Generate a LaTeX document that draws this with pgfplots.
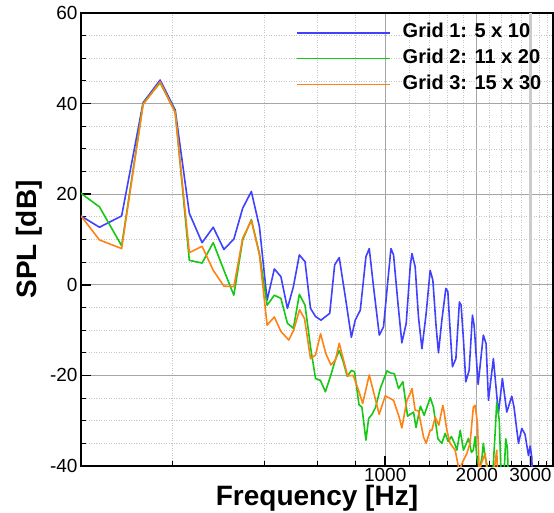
\documentclass[border=0pt]{standalone}
\usepackage{pgfplots}
\pgfplotsset{compat=1.18}
\usepackage{fontspec}
\setmainfont{Liberation Sans}
\definecolor{cblue}{RGB}{64,64,255}
\definecolor{cgreen}{RGB}{20,200,20}
\definecolor{corange}{RGB}{255,130,20}
\begin{document}
\begin{tikzpicture}
\begin{axis}[
 at={(0,0)}, anchor=south west,
 scale only axis, width=472pt, height=453pt,
 xmode=log, xmin=100, xmax=3560, ymin=-40, ymax=60,
 xtick={1000,2000}, xticklabels={1000,2000},
 extra x ticks={3000}, extra x tick labels={3000},
 extra x tick style={major grid style={line width=2.2pt, gray!40}},
 minor xtick={200,400,600,800,1200,1400,1600,1800,2200,2400,2600,2800,3200,3400},
 ytick={-40,-20,0,20,40,60}, yticklabels={-40,-20,0,20,40,60},
 minor ytick={-35,-30,-25,-15,-10,-5,5,10,15,25,30,35,45,50,55},
 grid=both,
 major grid style={gray!70, line width=1pt},
 minor grid style={gray!45, dash pattern=on 1pt off 1.5pt, line width=0.7pt},
 tick align=inside, xtick pos=bottom, ytick pos=left,
 major tick length=10pt, minor tick length=5pt,
 tick style={black, line width=1.5pt},
 minor tick style={line width=1pt},
 axis line style={black, line width=2pt},
 ticklabel style={font=\fontsize{19}{19}\selectfont},
 xticklabel style={yshift=1.5pt},
 xlabel={Frequency [Hz]}, ylabel={SPL [dB]},
 xlabel style={font=\fontsize{28}{28}\selectfont\bfseries, at={(axis description cs:0.5,-0.088)}, anchor=base},
 ylabel style={font=\fontsize{28}{28}\selectfont\bfseries, at={(axis description cs:-0.0953,0.5)}, anchor=base, rotate=0},
 legend style={at={(axis description cs:0.4555,0.981)}, anchor=north west, draw=none, fill=none, inner sep=0pt,
   font=\fontsize{20}{20}\selectfont\bfseries, row sep=3.8pt,
   nodes={inner sep=2pt, text height=14pt, text depth=4pt},
   /tikz/every odd column/.append style={column sep=10pt}},
 legend cell align=left,
 legend image code/.code={\draw[#1, line width=1.5pt] (0pt,0pt) -- (93pt,0pt);},
]
\addplot[cblue, line width=1.6pt, line join=round] table {
100 15.2
115 12.7
136 15.2
160 40.2
182 45.2
204 38.6
227 15.8
250 9.3
272 12.7
295 7.8
318 10.1
340 16.9
363 20.6
386 12.8
409 -3.4
432 3.5
454 1.8
477 -5.2
499 -0.4
522 6.6
545 5.1
568 -5.2
590 -7.0
615 -7.8
657 -6.3
682 4.4
706 6.0
739 -2.6
774 -11.6
797 -7.8
828 -5.6
864 6.2
886 8.0
915 -0.4
956 -11.1
987 -9.3
1018 0.3
1044 8.0
1065 6.6
1101 -4.1
1134 -12.8
1172 -8.5
1208 4.0
1224 6.9
1254 4.0
1286 -7.1
1320 -14.1
1363 -6.3
1405 3.2
1434 1.0
1470 -9.3
1496 -15.0
1535 -7.8
1582 -0.8
1606 -1.5
1634 -10
1663 -18.1
1707 -16.3
1753 -3.8
1776 -4.5
1808 -12.2
1840 -21.4
1887 -18.9
1935 -6.7
1960 -9
2020 -22
2101 -11.1
2145 -13.0
2184 -25.5
2267 -16.3
2355 -28.4
2427 -20.7
2509 -28.1
2606 -24.6
2650 -27
2741 -35.0
2811 -31.7
2880 -33
2957 -37.7
2994 -35.6
3030 -38
3060 -45
};
\addlegendentry{Grid 1: 5 x 10}
\addplot[cgreen, line width=1.6pt, line join=round] table {
100 20.2
115 17.2
136 8.6
160 40.0
182 44.6
204 38.2
227 5.4
250 4.8
272 9.3
295 3.2
318 -2.3
340 9.9
363 14.4
386 6.9
409 -4.5
432 -2.3
454 -3.0
477 -8.5
499 -9.6
522 -2.1
545 -4.5
568 -13.7
590 -20.7
612 -21.1
636 -23.6
662 -20.0
686 -16.5
706 -14.5
728 -17.0
750 -20.2
775 -18.9
793 -19.2
820 -26.5
838 -27
864 -34.3
882 -29.5
905 -28.6
930 -27
963 -22.9
1013 -19.0
1044 -19.5
1071 -19.6
1106 -22.9
1143 -21.4
1184 -29.0
1239 -28.1
1262 -31.5
1305 -26.8
1343 -28.8
1405 -24.9
1440 -27
1490 -34
1535 -35.0
1574 -32.8
1610 -34.6
1650 -33.5
1690 -35
1720 -36.5
1764 -32.1
1808 -36.5
1878 -33.9
1920 -37
1948 -36.5
1975 -33.5
2000 -38
2040 -41
2080 -38
2101 -35
2130 -38
2180 -41
2260 -41
2300 -32
2325 -25.9
2370 -29.9
2400 -41
2460 -41
2490 -34
2520 -36
2545 -45
};
\addlegendentry{Grid 2: 11 x 20}
\addplot[corange, line width=1.6pt, line join=round] table {
100 15.2
115 9.9
136 8.0
160 39.8
182 44.8
204 38.0
227 7.1
250 8.5
272 3.2
295 -0.3
318 -0.4
340 10.3
363 14.2
386 6.6
409 -8.9
432 -7.1
454 -10.3
482 -12.2
500 -10.0
523 -5.5
543 -7.5
568 -16.3
590 -15.5
613 -10.8
638 -15.2
663 -17.7
686 -16.6
706 -12.9
728 -16.4
752 -20.1
785 -20.0
817 -23.3
843 -26.2
886 -19.9
927 -25.1
955 -28.6
1000 -24.5
1038 -25.1
1065 -25.5
1078 -26.6
1111 -29.2
1134 -31.6
1178 -25.5
1208 -24.0
1224 -22.9
1254 -27.7
1285 -27.8
1336 -33.6
1363 -35.0
1405 -32.1
1423 -32.1
1460 -29.2
1500 -31
1546 -26.6
1560 -27.9
1594 -32.1
1634 -35.0
1697 -36.5
1750 -41
1800 -39
1853 -37.3
1900 -35
1948 -27
1974 -26.6
2010 -30.6
2036 -41
2080 -39
2130 -37.3
2160 -41
2280 -41
2325 -36.5
2350 -45
};
\addlegendentry{Grid 3: 15 x 30}
\end{axis}
\pgfresetboundingbox
\path (-81pt,-46pt) rectangle (473pt,466pt);
\end{tikzpicture}
\end{document}
